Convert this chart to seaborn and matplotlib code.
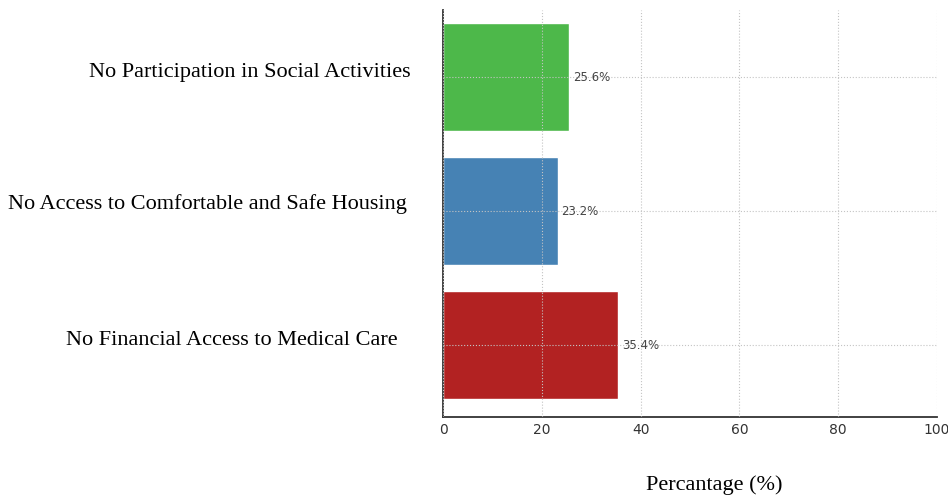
import matplotlib
matplotlib.use("Agg")
import matplotlib.pyplot as plt
import matplotlib.transforms as mtransforms
import seaborn as sns
import pandas as pd

categories = [
    "No Participation in Social Activities",
    "No Access to Comfortable and Safe Housing",
    "No Financial Access to Medical Care",
]
values = [25.6, 23.2, 35.4]
colors = ["#4db84a", "#4682b4", "#b22222"]
xticks = [0, 20, 40, 60, 80, 100]

df = pd.DataFrame({"cat": categories, "val": values})

sns.set_style("white")
fig = plt.figure(figsize=(9.48, 4.98), dpi=100)
ax = fig.add_axes([443 / 948, 1 - 417 / 498, (937 - 443) / 948, (417 - 10) / 498])

sns.barplot(data=df, x="val", y="cat", hue="cat", palette=colors, order=categories,
            hue_order=categories, orient="h", width=0.8, ax=ax, legend=False,
            saturation=1)

ax.set_xlim(0, 100)
ax.set_ylim(2.537, -0.5)
ax.set_xticks(xticks)
ax.set_xticklabels([str(t) for t in xticks])

for s in ["top", "right"]:
    ax.spines[s].set_visible(False)
for s in ["left", "bottom"]:
    ax.spines[s].set_color("#333333")
    ax.spines[s].set_linewidth(1.3)

ax.grid(True, axis="both", linestyle=":", color="#c4c4c4", linewidth=0.8)
ax.set_axisbelow(False)

ax.tick_params(axis="x", direction="in", length=3, labelsize=10, labelcolor="#333333", pad=4)
ax.tick_params(axis="y", direction="in", length=3)

serif = ["Liberation Serif", "DejaVu Serif"]
pads = [23, 26, 33]
offsets = [5, 7, 5]
for i, (tick, lab) in enumerate(zip(ax.yaxis.get_major_ticks(), ax.get_yticklabels())):
    tick.set_pad(pads[i])
    lab.set_fontfamily(serif)
    lab.set_fontsize(16)
    lab.set_color("black")
    lab.set_transform(lab.get_transform() + mtransforms.ScaledTranslation(0, offsets[i] / 72, fig.dpi_scale_trans))

ax.set_ylabel("")
ax.set_xlabel("Percantage (%)", fontfamily=serif, fontsize=16, color="black")
ax.xaxis.set_label_coords((714 - 443) / (937 - 443), -(485 - 417) / (417 - 10), transform=ax.transAxes)
ax.xaxis.label.set_verticalalignment("center")

for i, v in enumerate(values):
    ax.text(v + 0.8, i, f"{v}%", va="center", ha="left", fontsize=8.5, color="#444444",
            fontfamily="DejaVu Sans")

fig.savefig("out.png", dpi=100)
